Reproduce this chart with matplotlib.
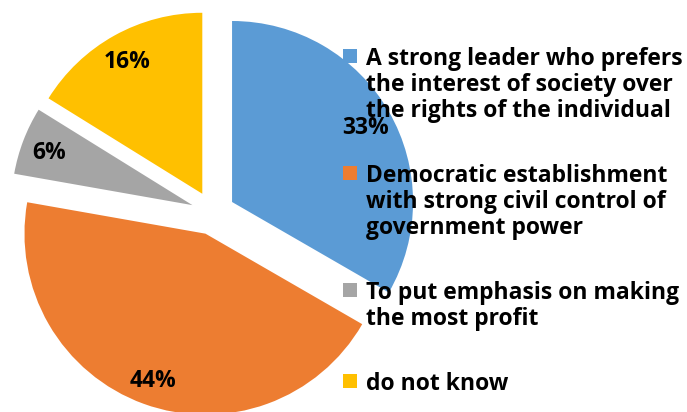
import matplotlib
matplotlib.use("Agg")
import matplotlib.pyplot as plt
from matplotlib.patches import Rectangle

categories = [
    "A strong leader who prefers\nthe interest of society over\nthe rights of the individual",
    "Democratic establishment\nwith strong civil control of\ngovernment power",
    "To put emphasis on making\nthe most profit",
    "do not know",
]
values = [33, 44, 6, 16]
colors = ["#5B9BD5", "#ED7D31", "#A5A5A5", "#FFC000"]

W, H = 687, 412
fig = plt.figure(figsize=(W / 100, H / 100), dpi=100)
ax = fig.add_axes([0, 0, 1, 1])

font = dict(family="Open Sans", weight="bold")
fs = 16.5
radius = 181
center = (213, H - 213)
wedges, _, autotexts = ax.pie(
    values, colors=colors, startangle=90, counterclock=False,
    radius=radius, center=center, explode=[22] * len(values),
    autopct="%1.0f%%", pctdistance=0.85,
    wedgeprops=dict(linewidth=0),
    textprops=dict(fontsize=fs, color="black", **font),
)
for t, v in zip(autotexts, values):
    t.set_text(f"{v}%")
    t.set_va("center_baseline")

ax.set_xlim(0, W)
ax.set_ylim(0, H)
ax.set_aspect("equal")
ax.axis("off")

# legend (manual, handles aligned to first line)
line_h = 26
gap = 39
y = 56
for lab, col in zip(categories, colors):
    lines = lab.split("\n")
    ax.add_patch(Rectangle((343, H - y - 7), 14, 14, facecolor=col,
                           edgecolor="none", zorder=5))
    for i, ln in enumerate(lines):
        ax.text(366, H - (y + i * line_h), ln, fontsize=fs, ha="left",
                va="center_baseline", color="black", zorder=6, **font)
    y += len(lines) * line_h + gap

fig.savefig("out.png", dpi=100)
